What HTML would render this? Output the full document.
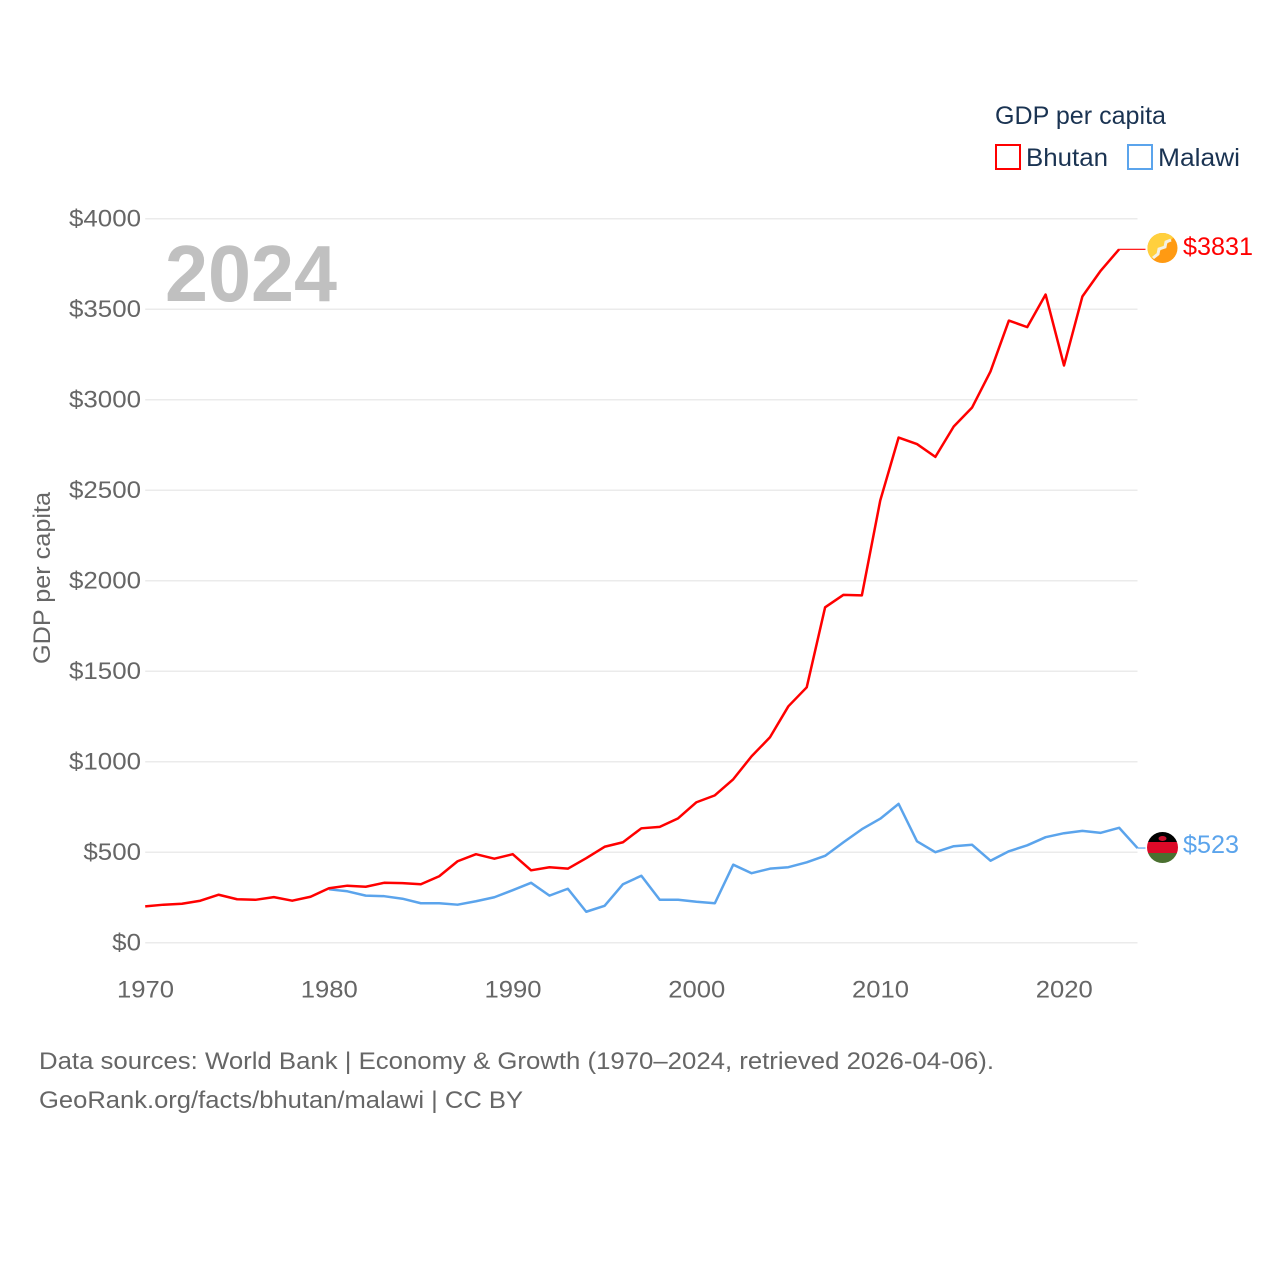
<!DOCTYPE html>
<html lang="en">
<head>
<meta charset="utf-8">
<title>GDP per capita: Bhutan and Malawi</title>
<style>
html,body{margin:0;padding:0;background:#fff}
svg{display:block}
text{font-family:"Liberation Sans",sans-serif}
</style>
</head>
<body>
<svg id="chart" width="1280" height="1280" viewBox="0 0 1280 1280" xmlns="http://www.w3.org/2000/svg">
  <rect width="1280" height="1280" fill="#fff"/>
  <g id="grid"></g>
  <g id="yticks"></g>
  <g id="xticks"></g>
  <g id="series"></g>

  <text x="165" y="301" font-size="80" font-weight="700" fill="#c0c0c0" textLength="172" lengthAdjust="spacingAndGlyphs">2024</text>
  <text transform="translate(50,664) rotate(-90)" font-size="24" fill="#666" textLength="172" lengthAdjust="spacingAndGlyphs">GDP per capita</text>

  <g>
    <text x="995" y="124" font-size="25" fill="#1a3352" textLength="171" lengthAdjust="spacingAndGlyphs">GDP per capita</text>
    <rect x="996" y="145" width="24" height="24" fill="none" stroke="#ff0000" stroke-width="2"/>
    <text x="1026" y="166" font-size="25" fill="#1a3352" textLength="82" lengthAdjust="spacingAndGlyphs">Bhutan</text>
    <rect x="1128" y="145" width="24" height="24" fill="none" stroke="#5ba4ec" stroke-width="2"/>
    <text x="1158" y="166" font-size="25" fill="#1a3352" textLength="82" lengthAdjust="spacingAndGlyphs">Malawi</text>
  </g>

  <defs>
    <clipPath id="clip-bt"><circle cx="1162.5" cy="248" r="15"/></clipPath>
    <clipPath id="clip-mw"><circle cx="1162.5" cy="847.5" r="15.5"/></clipPath>
  </defs>
  <g clip-path="url(#clip-bt)">
    <rect x="1147" y="233" width="31" height="31" fill="#ff9a12"/>
    <polygon points="1147,233 1178,233 1147,264" fill="#ffd03e"/>
    <polyline points="1153,258 1158,254 1159,249 1165,247 1166,242 1171,240" fill="none" stroke="#f4f0e4" stroke-width="3"/>
  </g>
  <g clip-path="url(#clip-mw)">
    <rect x="1147" y="832" width="31" height="10" fill="#000"/>
    <rect x="1147" y="842" width="31" height="11" fill="#dc0a28"/>
    <rect x="1147" y="853" width="31" height="11" fill="#4a7030"/>
    <ellipse cx="1162.5" cy="838.5" rx="4" ry="2.5" fill="#c8102e"/>
  </g>

  <text x="1183" y="255" font-size="25" fill="#ff0000" textLength="70" lengthAdjust="spacingAndGlyphs">$3831</text>
  <text x="1183" y="853" font-size="25" fill="#5ba4ec" textLength="56" lengthAdjust="spacingAndGlyphs">$523</text>

  <g>
    <text x="39" y="1069" font-size="24" fill="#666" textLength="955" lengthAdjust="spacingAndGlyphs">Data sources: World Bank | Economy &amp; Growth (1970–2024, retrieved 2026-04-06).</text>
    <text x="39" y="1108" font-size="24" fill="#666" textLength="484" lengthAdjust="spacingAndGlyphs">GeoRank.org/facts/bhutan/malawi | CC BY</text>
  </g>
</svg>
<script>
const xTickYears = [1970, 1980, 1990, 2000, 2010, 2020];
const yTickValues = [0, 500, 1000, 1500, 2000, 2500, 3000, 3500, 4000];
const bhutanStartYear = 1970;
const bhutanValues = [201, 210, 215, 232, 265, 240, 237, 252, 232, 254, 301, 315, 309, 331, 329, 323, 367, 450, 489, 464, 489, 400, 417, 409, 467, 530, 555, 632, 640, 687, 776, 814, 903, 1030, 1135, 1306, 1411, 1853, 1922, 1919, 2443, 2791, 2755, 2684, 2852, 2957, 3156, 3437, 3401, 3581, 3189, 3570, 3713, 3831];
const malawiStartYear = 1980;
const malawiValues = [295, 284, 260, 257, 243, 218, 218, 210, 229, 251, 290, 331, 260, 298, 171, 204, 323, 370, 237, 237, 226, 218, 431, 384, 409, 417, 444, 480, 555, 627, 685, 767, 560, 500, 533, 541, 453, 505, 538, 583, 605, 618, 607, 635, 523];

const NS = 'http://www.w3.org/2000/svg';
const xScale = year => 145.2 + (year - 1970) * (1137.5 - 145.2) / 54;
const yScale = value => 942.7 - value * (942.7 - 218.7) / 4000;

function svgEl(tag, attrs, parent) {
  const el = document.createElementNS(NS, tag);
  for (const k in attrs) el.setAttribute(k, attrs[k]);
  parent.appendChild(el);
  return el;
}

const grid = document.getElementById('grid');
const yticks = document.getElementById('yticks');
const xticks = document.getElementById('xticks');
const series = document.getElementById('series');

yTickValues.forEach(v => {
  const line = svgEl('line', {x1: xScale(1970), x2: xScale(2024), y1: yScale(v), y2: yScale(v), stroke: '#ebebeb', 'stroke-width': 1.5}, grid);
  
  
  const label = '$' + v;
  const t = svgEl('text', {x: 141, y: yScale(v) + 8, 'text-anchor': 'end', 'font-size': 24, fill: '#666', textLength: label.length * 14.4, lengthAdjust: 'spacingAndGlyphs'}, yticks);
  
  
  t.textContent = label;
});

xTickYears.forEach(y => {
  const t = svgEl('text', {x: xScale(y) + 0.3, y: 997.3, 'text-anchor': 'middle', 'font-size': 24, fill: '#666', textLength: 57, lengthAdjust: 'spacingAndGlyphs'}, xticks);
  
  
  t.textContent = String(y);
});

function drawSeries(name, values, startYear, color) {
  const pts = values.map((v, i) => xScale(startYear + i).toFixed(2) + ',' + yScale(v).toFixed(2));
  const line = svgEl('polyline', {points: pts.join(' '), fill: 'none', stroke: color, 'stroke-width': 2.5, 'stroke-linejoin': 'round'}, series);
  
  
  const last = values[values.length - 1];
  const lastYear = startYear + values.length - 1;
  const leader = svgEl('line', {x1: xScale(lastYear), x2: xScale(2024) + 8, y1: yScale(last), y2: yScale(last), stroke: color, 'stroke-width': 1.2}, series);
  
  
}
drawSeries('line-malawi', malawiValues, malawiStartYear, '#5ba4ec');
drawSeries('line-bhutan', bhutanValues, bhutanStartYear, '#ff0000');
</script>
</body>
</html>
